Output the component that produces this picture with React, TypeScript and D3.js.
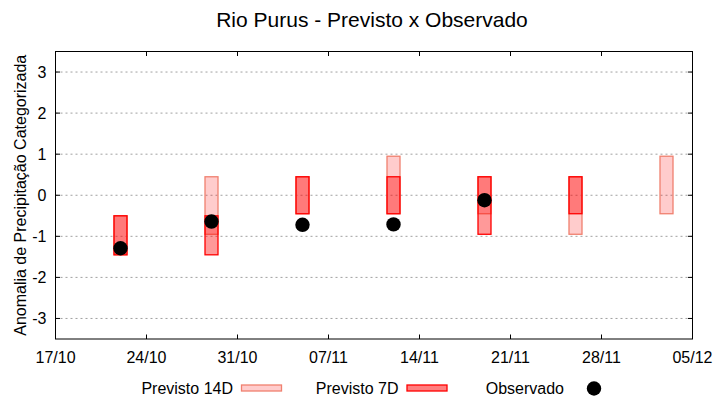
import * as d3 from 'd3'
import { useEffect, useRef } from 'react'

const YEAR = 2023
const xTickLabels = ['17/10', '24/10', '31/10', '07/11', '14/11', '21/11', '28/11', '05/12']
const yTicks = [-3, -2, -1, 0, 1, 2, 3]

const dates = ['22/10', '29/10', '05/11', '12/11', '19/11', '26/11', '03/12']
// [mín, máx] de cada previsão; null = sem previsão
const prev14: ([number, number] | null)[] = [
  [-1.45, -0.5],
  [-0.95, 0.45],
  [-0.45, 0.45],
  [-0.45, 0.95],
  [-0.45, 0.45],
  [-0.95, 0.45],
  [-0.45, 0.95],
]
const prev7: ([number, number] | null)[] = [
  [-1.45, -0.5],
  [-1.45, -0.5],
  [-0.45, 0.45],
  [-0.45, 0.45],
  [-0.95, 0.45],
  [-0.45, 0.45],
  null,
]
const observado: (number | null)[] = [-1.29, -0.64, -0.72, -0.71, -0.12, null, null]

const legendItems = ['Previsto 14D', 'Previsto 7D', 'Observado']

const parse = (s: string) => d3.utcParse('%d/%m/%Y')(`${s}/${YEAR}`) as Date

export default function App() {
  const svgRef = useRef<SVGSVGElement>(null)

  useEffect(() => {
    if (!svgRef.current) return
    const svg = d3.select(svgRef.current)
    svg.selectAll('*').remove()

    const W = 720
    const H = 400
    const margin = { top: 51.5, right: 27.5, bottom: 61, left: 55.5 }
    const innerW = W - margin.left - margin.right
    const innerH = H - margin.top - margin.bottom
    const font = '"Liberation Sans", Arial, sans-serif'

    const tickDates = xTickLabels.map(parse)
    const x = d3
      .scaleUtc()
      .domain([tickDates[0], tickDates[tickDates.length - 1]])
      .range([0, innerW])
    const y = d3.scaleLinear().domain([-3.5, 3.5]).range([innerH, 0])

    svg.attr('viewBox', `0 0 ${W} ${H}`).attr('font-family', font)

    svg
      .append('text')
      .attr('x', W / 2 + 12)
      .attr('y', 27)
      .attr('text-anchor', 'middle')
      .attr('font-size', 21)
      .attr('fill', '#000')
      .text('Rio Purus - Previsto x Observado')

    const g = svg.append('g').attr('transform', `translate(${margin.left},${margin.top})`)

    // grade horizontal
    g.append('g')
      .selectAll('line')
      .data(yTicks)
      .join('line')
      .attr('x1', 0)
      .attr('x2', innerW)
      .attr('y1', (d) => y(d))
      .attr('y2', (d) => y(d))
      .attr('stroke', '#a0a0a0')
      .attr('stroke-width', 1)
      .attr('stroke-dasharray', '2 3')

    const half = 12 * 3600 * 1000
    const barX = (s: string) => x(new Date(parse(s).getTime() - half))
    const barW = (s: string) => x(new Date(parse(s).getTime() + half)) - barX(s)

    const drawBars = (vals: ([number, number] | null)[], fillOp: number, stroke: string) => {
      const rows = dates.map((d, i) => ({ d, v: vals[i] })).filter((r) => r.v != null) as {
        d: string
        v: [number, number]
      }[]
      g.append('g')
        .selectAll('rect')
        .data(rows)
        .join('rect')
        .attr('x', (r) => barX(r.d))
        .attr('width', (r) => barW(r.d))
        .attr('y', (r) => y(r.v[1]))
        .attr('height', (r) => y(r.v[0]) - y(r.v[1]))
        .attr('fill', 'rgba(255,0,0,' + fillOp + ')')
        .attr('stroke', stroke)
        .attr('stroke-width', 1.3)
    }
    drawBars(prev14, 0.2, '#f0806f')
    drawBars(prev7, 0.4, '#ff0000')

    const obs = dates.map((d, i) => ({ d, v: observado[i] })).filter((r) => r.v != null) as {
      d: string
      v: number
    }[]
    g.append('g')
      .selectAll('circle')
      .data(obs)
      .join('circle')
      .attr('cx', (r) => x(parse(r.d)))
      .attr('cy', (r) => y(r.v))
      .attr('r', 7.2)
      .attr('fill', '#000')

    // moldura
    g.append('rect')
      .attr('width', innerW)
      .attr('height', innerH)
      .attr('fill', 'none')
      .attr('stroke', '#000')
      .attr('stroke-width', 1)

    const tl = 4.5
    const ticks = g.append('g').attr('stroke', '#000').attr('stroke-width', 1)
    tickDates.forEach((t) => {
      ticks.append('line').attr('x1', x(t)).attr('x2', x(t)).attr('y1', innerH).attr('y2', innerH - tl)
      ticks.append('line').attr('x1', x(t)).attr('x2', x(t)).attr('y1', 0).attr('y2', tl)
    })
    yTicks.forEach((v) => {
      ticks.append('line').attr('x1', 0).attr('x2', tl).attr('y1', y(v)).attr('y2', y(v))
      ticks.append('line').attr('x1', innerW).attr('x2', innerW - tl).attr('y1', y(v)).attr('y2', y(v))
    })

    g.append('g')
      .selectAll('text')
      .data(tickDates)
      .join('text')
      .attr('x', (d) => x(d))
      .attr('y', innerH + 24)
      .attr('text-anchor', 'middle')
      .attr('font-size', 16)
      .attr('fill', '#000')
      .text((_, i) => xTickLabels[i])

    g.append('g')
      .selectAll('text')
      .data(yTicks)
      .join('text')
      .attr('x', -9)
      .attr('y', (d) => y(d))
      .attr('dy', '0.36em')
      .attr('text-anchor', 'end')
      .attr('font-size', 16)
      .attr('fill', '#000')
      .text((d) => String(d))

    svg
      .append('text')
      .attr('transform', `translate(26,${margin.top + innerH / 2}) rotate(-90)`)
      .attr('text-anchor', 'middle')
      .attr('font-size', 16)
      .attr('fill', '#000')
      .text('Anomalia de Precipitação Categorizada')

    // legenda
    const legY = 388
    const colStep = 165.5
    const textRight = 233
    const lg = svg.append('g')
    legendItems.forEach((label, i) => {
      const tx = textRight + i * colStep
      lg.append('text')
        .attr('x', tx)
        .attr('y', legY)
        .attr('dy', '0.36em')
        .attr('text-anchor', 'end')
        .attr('font-size', 16)
        .attr('fill', '#000')
        .text(label)
      if (i < 2) {
        lg.append('rect')
          .attr('x', tx + 8.5)
          .attr('y', legY - 3)
          .attr('width', 40)
          .attr('height', 6)
          .attr('fill', i === 0 ? 'rgba(255,0,0,0.2)' : 'rgba(255,0,0,0.5)')
          .attr('stroke', i === 0 ? '#f0806f' : '#ff0000')
          .attr('stroke-width', 1.3)
      } else {
        lg.append('circle').attr('cx', tx + 30).attr('cy', legY + 0.5).attr('r', 7.2).attr('fill', '#000')
      }
    })
  }, [])

  return (
    <svg
      ref={svgRef}
      width={720}
      height={400}
      style={{ position: 'absolute', left: 0, top: 0, background: '#fff' }}
      role="img"
    />
  )
}
